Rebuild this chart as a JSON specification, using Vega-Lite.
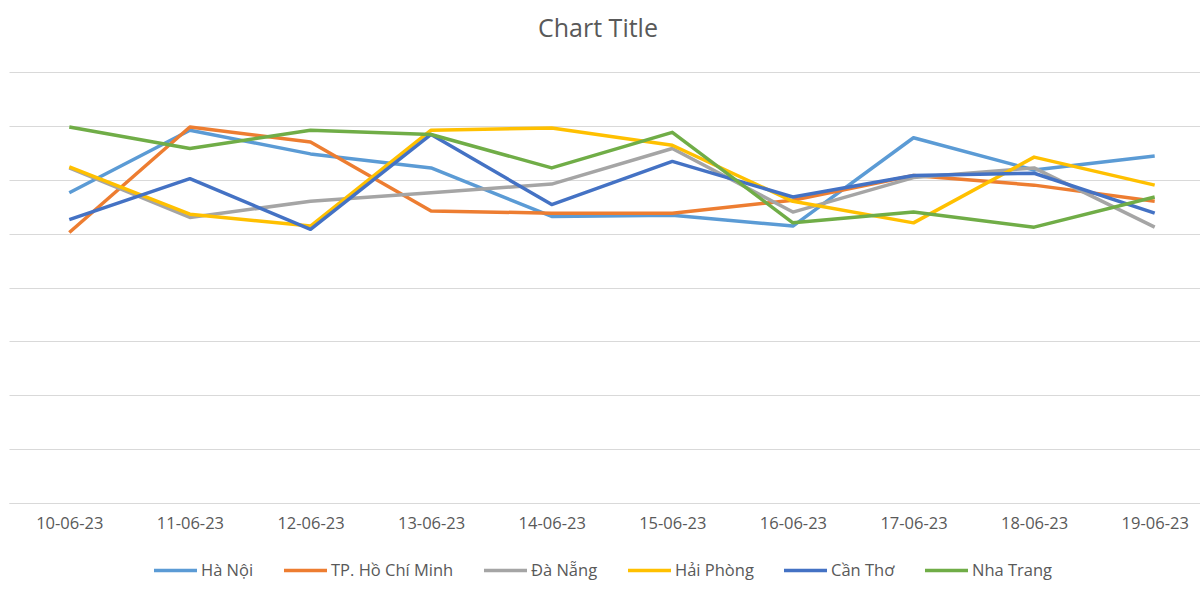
{
  "$schema": "https://vega.github.io/schema/vega-lite/v6.json",
  "autosize": {"type": "none"},
  "width": 1206,
  "height": 431,
  "padding": {"left": 9, "top": 72, "right": 0, "bottom": 97},
  "background": "white",
  "title": {"text": "Chart Title", "anchor": "middle", "offset": 30, "dx": -14, "fontSize": 25, "font": "Open Sans", "fontWeight": "normal", "color": "#595959"},
  "config": {
    "view": {"stroke": null},
    "font": "Open Sans"
  },
  "data": {"values": [
    {"city": "Hà Nội", "date": "10-06-23", "v": 28.8},
    {"city": "Hà Nội", "date": "11-06-23", "v": 34.6},
    {"city": "Hà Nội", "date": "12-06-23", "v": 32.4},
    {"city": "Hà Nội", "date": "13-06-23", "v": 31.1},
    {"city": "Hà Nội", "date": "14-06-23", "v": 26.6},
    {"city": "Hà Nội", "date": "15-06-23", "v": 26.7},
    {"city": "Hà Nội", "date": "16-06-23", "v": 25.7},
    {"city": "Hà Nội", "date": "17-06-23", "v": 33.9},
    {"city": "Hà Nội", "date": "18-06-23", "v": 30.9},
    {"city": "Hà Nội", "date": "19-06-23", "v": 32.2},
    {"city": "TP. Hồ Chí Minh", "date": "10-06-23", "v": 25.1},
    {"city": "TP. Hồ Chí Minh", "date": "11-06-23", "v": 34.9},
    {"city": "TP. Hồ Chí Minh", "date": "12-06-23", "v": 33.5},
    {"city": "TP. Hồ Chí Minh", "date": "13-06-23", "v": 27.1},
    {"city": "TP. Hồ Chí Minh", "date": "14-06-23", "v": 26.9},
    {"city": "TP. Hồ Chí Minh", "date": "15-06-23", "v": 26.9},
    {"city": "TP. Hồ Chí Minh", "date": "16-06-23", "v": 28.1},
    {"city": "TP. Hồ Chí Minh", "date": "17-06-23", "v": 30.4},
    {"city": "TP. Hồ Chí Minh", "date": "18-06-23", "v": 29.5},
    {"city": "TP. Hồ Chí Minh", "date": "19-06-23", "v": 28.0},
    {"city": "Đà Nẵng", "date": "10-06-23", "v": 31.1},
    {"city": "Đà Nẵng", "date": "11-06-23", "v": 26.5},
    {"city": "Đà Nẵng", "date": "12-06-23", "v": 28.0},
    {"city": "Đà Nẵng", "date": "13-06-23", "v": 28.8},
    {"city": "Đà Nẵng", "date": "14-06-23", "v": 29.6},
    {"city": "Đà Nẵng", "date": "15-06-23", "v": 32.9},
    {"city": "Đà Nẵng", "date": "16-06-23", "v": 27.0},
    {"city": "Đà Nẵng", "date": "17-06-23", "v": 30.2},
    {"city": "Đà Nẵng", "date": "18-06-23", "v": 31.1},
    {"city": "Đà Nẵng", "date": "19-06-23", "v": 25.6},
    {"city": "Hải Phòng", "date": "10-06-23", "v": 31.2},
    {"city": "Hải Phòng", "date": "11-06-23", "v": 26.8},
    {"city": "Hải Phòng", "date": "12-06-23", "v": 25.7},
    {"city": "Hải Phòng", "date": "13-06-23", "v": 34.6},
    {"city": "Hải Phòng", "date": "14-06-23", "v": 34.8},
    {"city": "Hải Phòng", "date": "15-06-23", "v": 33.2},
    {"city": "Hải Phòng", "date": "16-06-23", "v": 28.0},
    {"city": "Hải Phòng", "date": "17-06-23", "v": 26.0},
    {"city": "Hải Phòng", "date": "18-06-23", "v": 32.1},
    {"city": "Hải Phòng", "date": "19-06-23", "v": 29.5},
    {"city": "Cần Thơ", "date": "10-06-23", "v": 26.3},
    {"city": "Cần Thơ", "date": "11-06-23", "v": 30.1},
    {"city": "Cần Thơ", "date": "12-06-23", "v": 25.4},
    {"city": "Cần Thơ", "date": "13-06-23", "v": 34.2},
    {"city": "Cần Thơ", "date": "14-06-23", "v": 27.7},
    {"city": "Cần Thơ", "date": "15-06-23", "v": 31.7},
    {"city": "Cần Thơ", "date": "16-06-23", "v": 28.4},
    {"city": "Cần Thơ", "date": "17-06-23", "v": 30.4},
    {"city": "Cần Thơ", "date": "18-06-23", "v": 30.6},
    {"city": "Cần Thơ", "date": "19-06-23", "v": 26.9},
    {"city": "Nha Trang", "date": "10-06-23", "v": 34.9},
    {"city": "Nha Trang", "date": "11-06-23", "v": 32.9},
    {"city": "Nha Trang", "date": "12-06-23", "v": 34.6},
    {"city": "Nha Trang", "date": "13-06-23", "v": 34.2},
    {"city": "Nha Trang", "date": "14-06-23", "v": 31.1},
    {"city": "Nha Trang", "date": "15-06-23", "v": 34.4},
    {"city": "Nha Trang", "date": "16-06-23", "v": 26.0},
    {"city": "Nha Trang", "date": "17-06-23", "v": 27.0},
    {"city": "Nha Trang", "date": "18-06-23", "v": 25.6},
    {"city": "Nha Trang", "date": "19-06-23", "v": 28.4}
  ]},
  "mark": {"type": "line", "strokeWidth": 3.5, "strokeJoin": "round"},
  "encoding": {
    "x": {
      "field": "date", "type": "ordinal",
      "scale": {"type": "point", "padding": 0.5},
      "axis": {"title": null, "labelAngle": 0, "ticks": false, "domainColor": "#d9d9d9", "domainWidth": 1.2, "labelColor": "#595959", "labelFontSize": 16.5, "labelPadding": 12, "labelFont": "Open Sans"}
    },
    "y": {
      "field": "v", "type": "quantitative",
      "scale": {"domain": [0, 40], "nice": false},
      "axis": {"title": null, "labels": false, "ticks": false, "domain": false, "values": [0, 5, 10, 15, 20, 25, 30, 35, 40], "gridColor": "#d9d9d9", "gridWidth": 1.2}
    },
    "color": {
      "field": "city", "type": "nominal",
      "scale": {
        "domain": ["Hà Nội", "TP. Hồ Chí Minh", "Đà Nẵng", "Hải Phòng", "Cần Thơ", "Nha Trang"],
        "range": ["#5B9BD5", "#ED7D31", "#A5A5A5", "#FFC000", "#4472C4", "#70AD47"]
      },
      "legend": {"title": null, "orient": "none", "legendX": 143, "legendY": 475, "direction": "horizontal", "symbolType": "stroke", "symbolStrokeWidth": 3.5, "symbolSize": 1850, "labelFontSize": 16.5, "labelColor": "#595959", "labelFont": "Open Sans", "columnPadding": 22, "labelOffset": 2}
    }
  }
}
